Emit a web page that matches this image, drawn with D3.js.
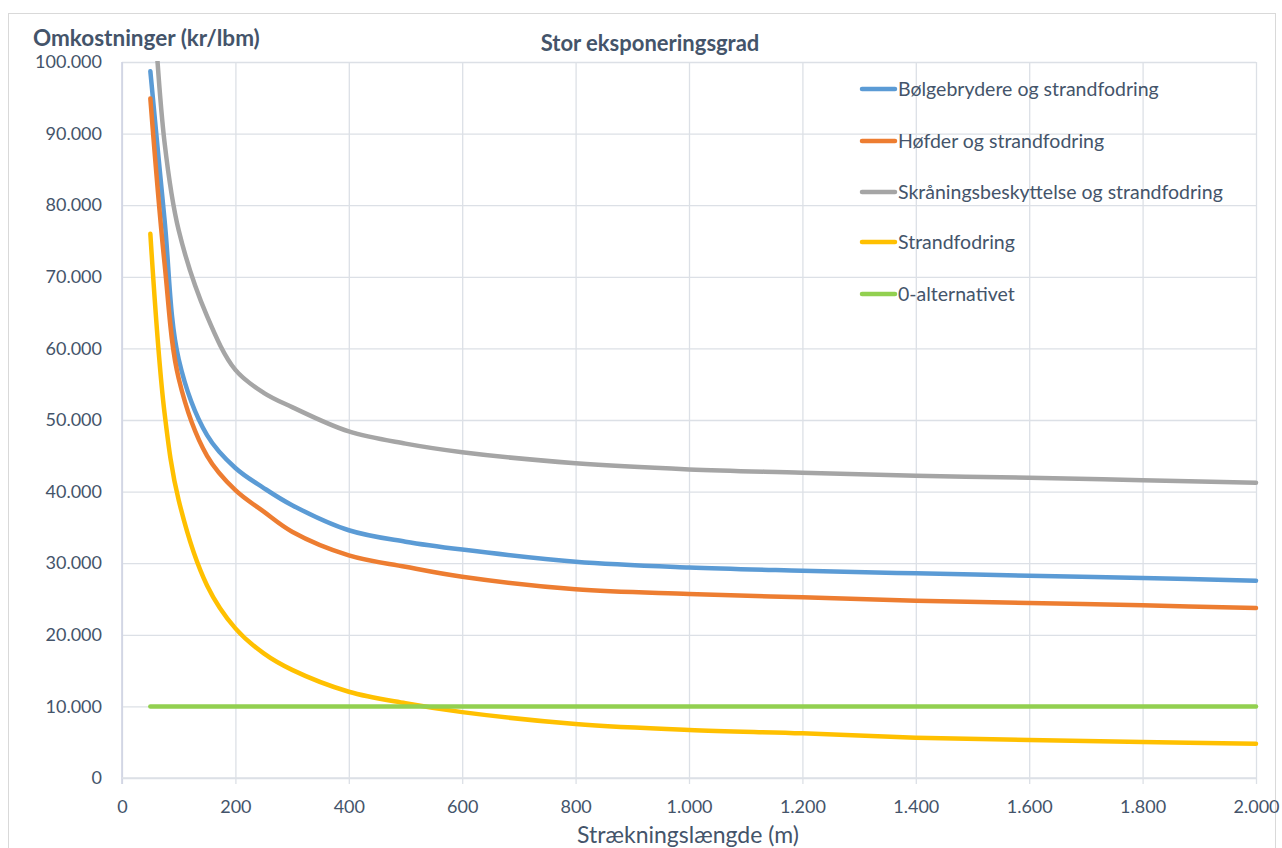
<!DOCTYPE html>
<html>
<head>
<meta charset="utf-8">
<script src="https://cdn.jsdelivr.net/npm/d3@7"></script>
<style>
  html, body { margin: 0; padding: 0; background: #ffffff; }
  svg { display: block; }
  text { font-family: "Lato", "Open Sans", sans-serif; fill: #44546A; }
</style>
</head>
<body>
<svg id="chart" width="1282" height="848"></svg>
<script>
// ---- data ----
const lengths = [50, 75, 100, 150, 200, 250, 300, 400, 500, 600, 800, 1000, 1200, 1400, 1600, 1800, 2000];
const seriesNames = [
  "Bølgebrydere og strandfodring",
  "Høfder og strandfodring",
  "Skråningsbeskyttelse og strandfodring",
  "Strandfodring",
  "0-alternativet"
];
const boelgebrydere = [98700, 78000, 58500, 47900, 43300, 40500, 38100, 34600, 33000, 31900, 30200, 29400, 28950, 28580, 28260, 27930, 27560];
const hoefder       = [94900, 71900, 55800, 45000, 40200, 37200, 34400, 31100, 29500, 28100, 26350, 25700, 25230, 24770, 24440, 24120, 23740];
const skraaning     = [116000, 88800, 76500, 64500, 57000, 53800, 51800, 48400, 46700, 45500, 43950, 43100, 42650, 42200, 41950, 41600, 41250];
const strandfodring = [76000, 51000, 38800, 26900, 20900, 17400, 15100, 12050, 10430, 9200, 7540, 6700, 6240, 5630, 5310, 5030, 4790];
const nulAlternativ = [10000, 10000, 10000, 10000, 10000, 10000, 10000, 10000, 10000, 10000, 10000, 10000, 10000, 10000, 10000, 10000, 10000];
const seriesColors = ["#5B9BD5", "#ED7D31", "#A5A5A5", "#FFC000", "#92D050"];
const xTicks = [0, 200, 400, 600, 800, 1000, 1200, 1400, 1600, 1800, 2000];
const yTicks = [0, 10000, 20000, 30000, 40000, 50000, 60000, 70000, 80000, 90000, 100000];
const chartTitle = "Stor eksponeringsgrad";
const yTitle = "Omkostninger (kr/lbm)";
const xTitle = "Strækningslængde (m)";

const allSeries = [boelgebrydere, hoefder, skraaning, strandfodring, nulAlternativ];

// ---- layout ----
const svg = d3.select("#chart");
const plot = { left: 122, right: 1256, top: 62, bottom: 778 };
const gridColor = "#DCE0E6";

const locale = d3.formatLocale({ decimal: ",", thousands: ".", grouping: [3], currency: ["", " kr"] });
const fmt = locale.format(",d");

const x = d3.scaleLinear().domain([0, 2000]).range([plot.left, plot.right]);
const y = d3.scaleLinear().domain([0, 100000]).range([plot.bottom, plot.top]);

// outer chart border
svg.append("rect")
  .attr("x", 8.5).attr("y", 13.5)
  .attr("width", 1267).attr("height", 850)
  .attr("fill", "none").attr("stroke", "#D9D9D9").attr("stroke-width", 1);

// horizontal gridlines (y axis)
const yAxis = d3.axisLeft(y).tickValues(yTicks).tickSize(-(plot.right - plot.left)).tickFormat(fmt).tickPadding(20);
const gy = svg.append("g").attr("transform", `translate(${plot.left},0)`).call(yAxis);
gy.select(".domain").remove();
gy.selectAll(".tick line").attr("stroke", gridColor).attr("stroke-width", 1.3);
gy.selectAll(".tick text").attr("font-size", 18).attr("fill", "#44546A").attr("font-family", "Lato");

// vertical gridlines (x axis) extending below the axis as tick marks
const xAxis = d3.axisBottom(x).tickValues(xTicks).tickSize(-(plot.bottom - plot.top)).tickFormat(fmt).tickPadding(22);
const gx = svg.append("g").attr("transform", `translate(0,${plot.bottom})`).call(xAxis);
gx.select(".domain").remove();
gx.selectAll(".tick line").attr("stroke", gridColor).attr("stroke-width", 1.3).attr("y2", -(plot.bottom - plot.top)).attr("y1", 6);
gx.selectAll(".tick text").attr("font-size", 18).attr("fill", "#44546A").attr("font-family", "Lato");

// axis lines
svg.append("line").attr("x1", plot.left).attr("x2", plot.left).attr("y1", plot.top).attr("y2", plot.bottom + 6)
  .attr("stroke", "#D0D4E4").attr("stroke-width", 1.6);
svg.append("line").attr("x1", plot.left).attr("x2", plot.right).attr("y1", plot.bottom).attr("y2", plot.bottom)
  .attr("stroke", "#DCE0E6").attr("stroke-width", 1.6);

// clip
svg.append("clipPath").attr("id", "plotclip")
  .append("rect").attr("x", plot.left).attr("y", plot.top - 1)
  .attr("width", plot.right - plot.left + 3).attr("height", plot.bottom - plot.top + 1);

const line = d3.line()
  .x((d, i) => x(lengths[i]))
  .y(d => y(d))
  .curve(d3.curveCatmullRom.alpha(0.5));

const gLines = svg.append("g").attr("clip-path", "url(#plotclip)");
allSeries.forEach((vals, k) => {
  gLines.append("path")
    .datum(vals)
    .attr("d", line)
    .attr("fill", "none")
    .attr("stroke", seriesColors[k])
    .attr("stroke-width", 4.5)
    .attr("stroke-linecap", "round")
    .attr("stroke-linejoin", "round");
});

// titles
svg.append("text").attr("x", 650).attr("y", 51).attr("text-anchor", "middle")
  .attr("font-size", 22).attr("font-weight", "bold").text(chartTitle);
svg.append("text").attr("x", 33).attr("y", 46)
  .attr("font-size", 22.5).attr("font-weight", "bold").text(yTitle);
svg.append("text").attr("x", 688).attr("y", 843).attr("text-anchor", "middle")
  .attr("font-size", 23).text(xTitle);

// legend
const legendY = [89, 141, 192, 242, 294];
const lg = svg.append("g");
seriesNames.forEach((name, k) => {
  lg.append("line").attr("x1", 862).attr("x2", 895).attr("y1", legendY[k]).attr("y2", legendY[k])
    .attr("stroke", seriesColors[k]).attr("stroke-width", 4.5).attr("stroke-linecap", "round");
  lg.append("text").attr("x", 898).attr("y", legendY[k]).attr("dy", "0.35em")
    .attr("font-size", 19.5).text(name);
});
</script>
</body>
</html>
